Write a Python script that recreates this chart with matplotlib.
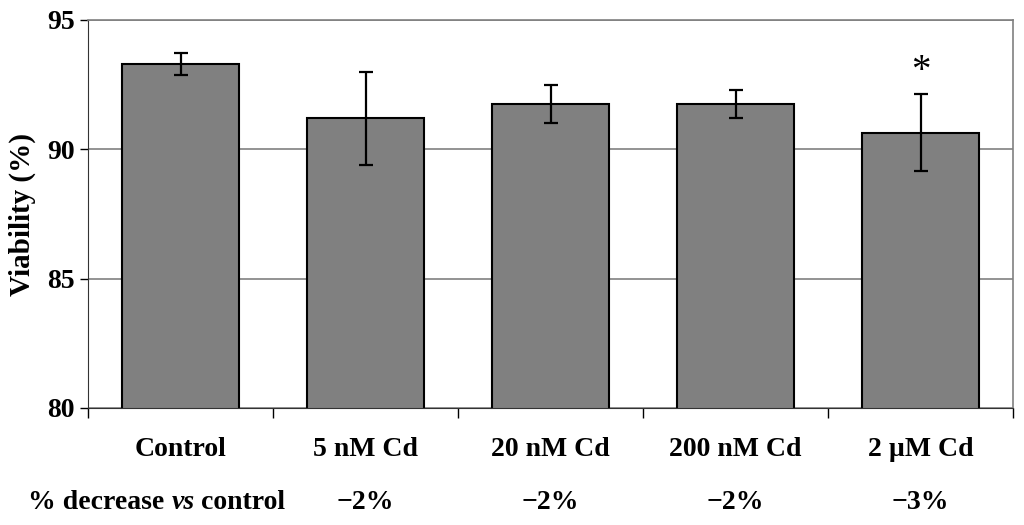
import matplotlib.pyplot as plt
import numpy as np

# viability of cells after Cd exposure
groups = ["Control", "5 nM Cd", "20 nM Cd", "200 nM Cd", "2 µM Cd"]
viability = [93.3, 91.2, 91.75, 91.75, 90.65]
err = [0.43, 1.8, 0.73, 0.53, 1.48]
decrease = ["", "\u22122%", "\u22122%", "\u22122%", "\u22123%"]
star_group = 4
star_y = 92.66

plt.rcParams['font.family'] = ['Liberation Serif', 'DejaVu Serif']
plt.rcParams['font.weight'] = 'bold'

fig = plt.figure(figsize=(10.24, 5.25), dpi=100)
ax = fig.add_axes([88/1024, 117/525, 925/1024, 388/525])

x = np.arange(len(groups))
ax.bar(x, viability, width=0.63, color='#808080', edgecolor='black', linewidth=1.5, zorder=2)
ax.errorbar(x, viability, yerr=err, fmt='none', ecolor='black', elinewidth=1.6,
            capsize=4.7, capthick=1.6, zorder=3)
ax.text(star_group, star_y, "*", ha='center', va='baseline', fontsize=28, fontweight='normal')

ax.set_xlim(-0.5, len(groups) - 0.5)
ax.set_ylim(80, 95)
ax.set_yticks([80, 85, 90, 95])
ax.tick_params(axis='y', labelsize=20, length=6, width=1, direction='out', pad=3.5)
ax.yaxis.grid(True, color='#808080', linewidth=1.2, zorder=0)
ax.set_axisbelow(True)

ax.set_xticks(x)
ax.set_xticklabels([])
ax.tick_params(axis='x', which='major', length=0)
ax.set_xticks(np.arange(-0.5, len(groups)), minor=True)
ax.tick_params(axis='x', which='minor', length=7, width=1, direction='out')

for s in ['top', 'right']:
    ax.spines[s].set_color('#808080')
    ax.spines[s].set_linewidth(1.2)
ax.spines['left'].set_color('#333333')
ax.spines['bottom'].set_color('#333333')

ax.set_ylabel("Viability (%)", fontsize=21, fontweight='bold', labelpad=8)

# category labels under the bars
for i, g in enumerate(groups):
    ax.text(i, -0.124, g, transform=ax.get_xaxis_transform(), ha='center', va='baseline',
            fontsize=20, fontweight='bold')

# % decrease row
row_y = 16/525
row_ax = (row_y * 525 - 117) / 388
for i, d in enumerate(decrease):
    if d:
        ax.text(i, row_ax, d, transform=ax.get_xaxis_transform(), ha='center', va='baseline',
                fontsize=20, fontweight='bold')

fig.canvas.draw()
r = fig.canvas.get_renderer()
xpos = 28
for part, style in [("% decrease ", 'normal'), ("vs", 'italic'), (" control", 'normal')]:
    t = fig.text(xpos/1024, row_y, part, ha='left', va='baseline', fontsize=20,
                 fontweight='bold', fontstyle=style)
    xpos += t.get_window_extent(r).width

fig.savefig("out.png", dpi=100)
